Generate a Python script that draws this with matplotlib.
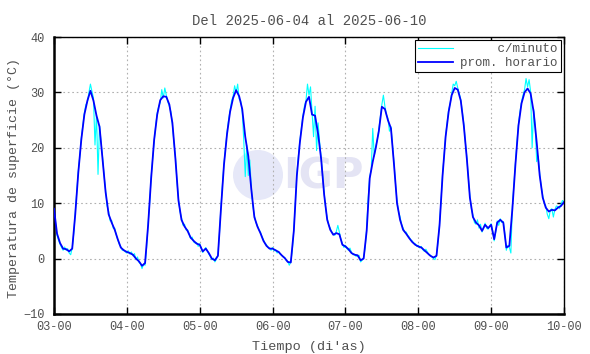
import matplotlib
matplotlib.use('Agg')
import matplotlib.pyplot as plt
from matplotlib.patches import Ellipse
import numpy as np

# prom. horario: one value per hour, 03-00 .. 10-00
prom_dia1 = [9.0, 4.5, 2.8, 1.8, 1.7, 1.3, 1.8, 8.0, 15.5, 21.5, 26.0, 28.5,
             30.3, 28.5, 25.8, 23.8, 18.0, 12.0, 8.0, 6.5, 5.2, 3.5, 2.0, 1.5]
prom_dia2 = [1.2, 1.0, 0.7, 0.0, -0.5, -1.3, -0.8, 6.0, 14.5, 21.5, 26.0, 28.6,
             29.3, 29.2, 27.8, 24.5, 18.0, 10.5, 7.0, 5.8, 5.0, 3.8, 3.2, 2.7]
prom_dia3 = [2.5, 1.3, 1.8, 1.0, 0.0, -0.3, 0.5, 9.0, 17.0, 22.5, 26.5, 29.0,
             30.4, 29.3, 27.0, 22.0, 18.5, 12.5, 7.5, 5.8, 4.6, 3.2, 2.3, 1.8]
prom_dia4 = [1.8, 1.5, 1.2, 0.6, 0.1, -0.6, -0.7, 5.0, 15.0, 21.0, 25.5, 28.3,
             29.2, 26.0, 25.8, 22.5, 18.0, 11.5, 7.0, 5.2, 4.3, 4.6, 4.4, 2.5]
prom_dia5 = [2.2, 1.7, 1.0, 0.7, 0.6, -0.3, 0.0, 5.0, 14.5, 17.5, 20.0, 23.0,
             27.4, 27.0, 25.0, 23.5, 17.0, 10.0, 7.0, 5.2, 4.5, 3.7, 3.0, 2.5]
prom_dia6 = [2.2, 2.0, 1.5, 1.0, 0.5, 0.2, 0.5, 6.0, 15.0, 22.0, 26.5, 29.5,
             30.8, 30.5, 28.5, 24.0, 18.0, 11.0, 7.5, 6.5, 6.0, 5.0, 6.1, 5.5]
prom_dia7 = [6.1, 3.5, 6.5, 7.0, 6.5, 2.0, 2.3, 9.0, 17.0, 24.0, 28.0, 30.0,
             30.7, 29.8, 26.5, 21.0, 15.0, 11.0, 9.2, 8.5, 8.8, 8.7, 9.2, 9.5]
prom_fin = [10.2]

# c/minuto (read every half hour)
min_dia1 = [9.3, 6.5, 4.2, 3.3, 2.6, 2.0, 1.5, 2.1, 1.5, 1.8, 1.0, 0.7,
            1.9, 4.5, 8.3, 12.0, 15.8, 18.5, 21.8, 24.0, 26.3, 27.8, 28.2, 30.0,
            31.5, 30.2, 29.0, 20.5, 26.0, 15.2, 24.0, 21.0, 18.3, 15.0, 12.2, 9.5,
            8.5, 6.8, 6.9, 5.5, 5.5, 4.3, 3.4, 2.6, 2.2, 1.5, 1.6, 1.2]
min_dia2 = [1.0, 1.4, 0.8, 1.2, 0.5, 0.9, -0.2, 0.3, -0.7, -0.9, -1.8, -1.0,
            -1.2, 2.0, 6.3, 10.0, 14.8, 18.0, 21.2, 24.0, 26.3, 27.5, 28.2, 30.5,
            29.0, 30.8, 29.5, 28.3, 27.5, 26.5, 24.2, 21.0, 18.3, 14.0, 10.8, 8.5,
            7.4, 6.0, 6.2, 5.2, 5.2, 4.5, 3.6, 3.9, 3.0, 2.8, 2.9, 2.2]
min_dia3 = [2.7, 1.8, 1.1, 1.6, 2.0, 1.4, 0.8, 0.4, -0.2, 0.1, -0.6, -0.1,
            0.7, 4.5, 9.3, 13.5, 17.2, 20.0, 22.8, 25.0, 26.8, 28.5, 29.3, 31.2,
            30.0, 31.5, 28.8, 28.5, 26.5, 21.5, 14.8, 20.5, 15.0, 17.8, 12.8, 9.5,
            7.8, 6.5, 6.0, 5.2, 4.8, 4.0, 3.4, 2.8, 2.5, 2.0, 1.9, 1.5]
min_dia4 = [2.0, 1.4, 1.6, 1.0, 1.3, 0.8, 0.6, 0.3, 0.2, -0.3, -0.5, -1.2,
            -0.6, 1.5, 5.3, 10.0, 15.3, 18.5, 21.3, 23.5, 25.8, 27.5, 28.5, 31.5,
            29.5, 31.0, 26.5, 22.0, 27.5, 19.5, 24.5, 21.0, 18.3, 15.0, 11.8, 9.0,
            7.3, 6.0, 5.5, 4.8, 4.5, 4.2, 4.9, 6.0, 4.8, 3.5, 2.7, 2.0]
min_dia5 = [2.4, 1.8, 1.5, 1.9, 1.1, 0.7, 0.8, 0.4, 0.5, 0.6, -0.6, -0.3,
            0.2, 2.0, 5.5, 11.0, 14.8, 16.0, 23.5, 18.5, 20.2, 21.5, 23.3, 25.5,
            27.8, 29.5, 27.5, 26.0, 25.3, 23.0, 23.8, 20.5, 17.3, 13.5, 10.3, 8.5,
            7.5, 6.2, 5.5, 4.8, 4.8, 4.2, 3.9, 3.4, 3.2, 2.8, 2.7, 2.2]
min_dia6 = [2.4, 1.9, 2.2, 1.6, 1.3, 1.7, 1.2, 0.7, 0.6, 0.3, 0.0, -0.2,
            0.7, 3.0, 6.3, 10.5, 15.3, 18.5, 22.2, 24.5, 26.8, 28.0, 29.8, 31.5,
            31.2, 32.0, 30.8, 29.8, 28.7, 26.5, 24.3, 21.0, 18.3, 14.5, 11.3, 9.0,
            7.8, 6.5, 6.2, 7.0, 5.5, 6.2, 4.8, 5.5, 6.4, 5.5, 5.3, 5.9]
min_dia7 = [6.3, 5.0, 3.2, 4.8, 6.8, 6.0, 7.2, 6.5, 6.7, 4.5, 1.5, 2.4,
            2.0, 1.0, 9.5, 13.5, 17.3, 21.0, 24.3, 26.5, 28.3, 29.5, 30.5, 32.5,
            31.0, 32.3, 30.2, 20.0, 27.0, 24.0, 17.5, 18.5, 15.3, 13.0, 11.3, 10.0,
            9.5, 8.0, 7.2, 8.8, 9.0, 7.5, 8.9, 9.5, 9.4, 9.0, 9.8, 10.5]
min_fin = [10.2]

dias_ticks = ['03-00', '04-00', '05-00', '06-00', '07-00', '08-00', '09-00', '10-00']
titulo = 'Del 2025-06-04 al 2025-06-10'

prom = prom_dia1 + prom_dia2 + prom_dia3 + prom_dia4 + prom_dia5 + prom_dia6 + prom_dia7 + prom_fin
minuto = min_dia1 + min_dia2 + min_dia3 + min_dia4 + min_dia5 + min_dia6 + min_dia7 + min_fin
t_prom = np.arange(len(prom)) / 24.0
t_min = np.arange(len(minuto)) / 48.0

plt.rcParams['font.family'] = ['Liberation Mono', 'DejaVu Sans Mono']
plt.rcParams['font.size'] = 9
gris = '#505050'

fig = plt.figure(figsize=(5.9, 3.54), dpi=100)
ax = fig.add_axes([54/590, 40/354, 510/590, 277/354])

# IGP watermark
logo = Ellipse(((258-54)/510, (314-175)/277), 50/510, 50/277, transform=ax.transAxes,
               facecolor='#e6e8f8', edgecolor='none', zorder=0)
ax.add_patch(logo)
ax.text((283-54)/510, (314-176)/277, 'IGP', transform=ax.transAxes,
        fontsize=30, fontweight='bold', family='DejaVu Sans', color='#e4e4f4',
        ha='left', va='center', zorder=0)

ax.plot(t_min, minuto, color='#00ffff', lw=0.8, label='     c/minuto', zorder=2)
ax.plot(t_prom, prom, color='#0000ff', lw=1.3, label='prom. horario', zorder=3)

ax.set_xlim(0, 7)
ax.set_ylim(-10, 40)
ax.set_xticks(range(8))
ax.set_xticklabels(dias_ticks)
ax.set_yticks([-10, 0, 10, 20, 30, 40])
ax.grid(True, color='#b0b0b0', linestyle=(0, (1.5, 2.5)), lw=0.8)
ax.tick_params(direction='in', top=True, right=True, length=5, width=1,
               colors='black', labelcolor=gris, labelsize=8.6)
ax.tick_params(axis='y', pad=7)
ax.tick_params(axis='x', pad=5)
for s in ax.spines.values():
    s.set_linewidth(1)
ax.spines['left'].set_linewidth(1.8)
ax.spines['bottom'].set_linewidth(1.8)

ax.set_xlabel('Tiempo (di\'as)', color=gris, fontsize=9.7)
ax.set_ylabel('Temperatura de superficie (°C)', color=gris, fontsize=9.5)
ax.xaxis.set_label_coords(0.499, -0.0975)
ax.yaxis.set_label_coords(-0.066, 0.49)
ax.set_title(titulo, color=gris, pad=9, fontsize=10)

leg = ax.legend(loc='upper right', fancybox=False, framealpha=1, edgecolor='black',
                borderaxespad=0.25, handlelength=2.8, labelspacing=0.15,
                borderpad=0.25, handletextpad=0.6, fontsize=9)
leg.get_frame().set_linewidth(0.8)
for txt in leg.get_texts():
    txt.set_color(gris)

fig.savefig('out.png', dpi=100)
